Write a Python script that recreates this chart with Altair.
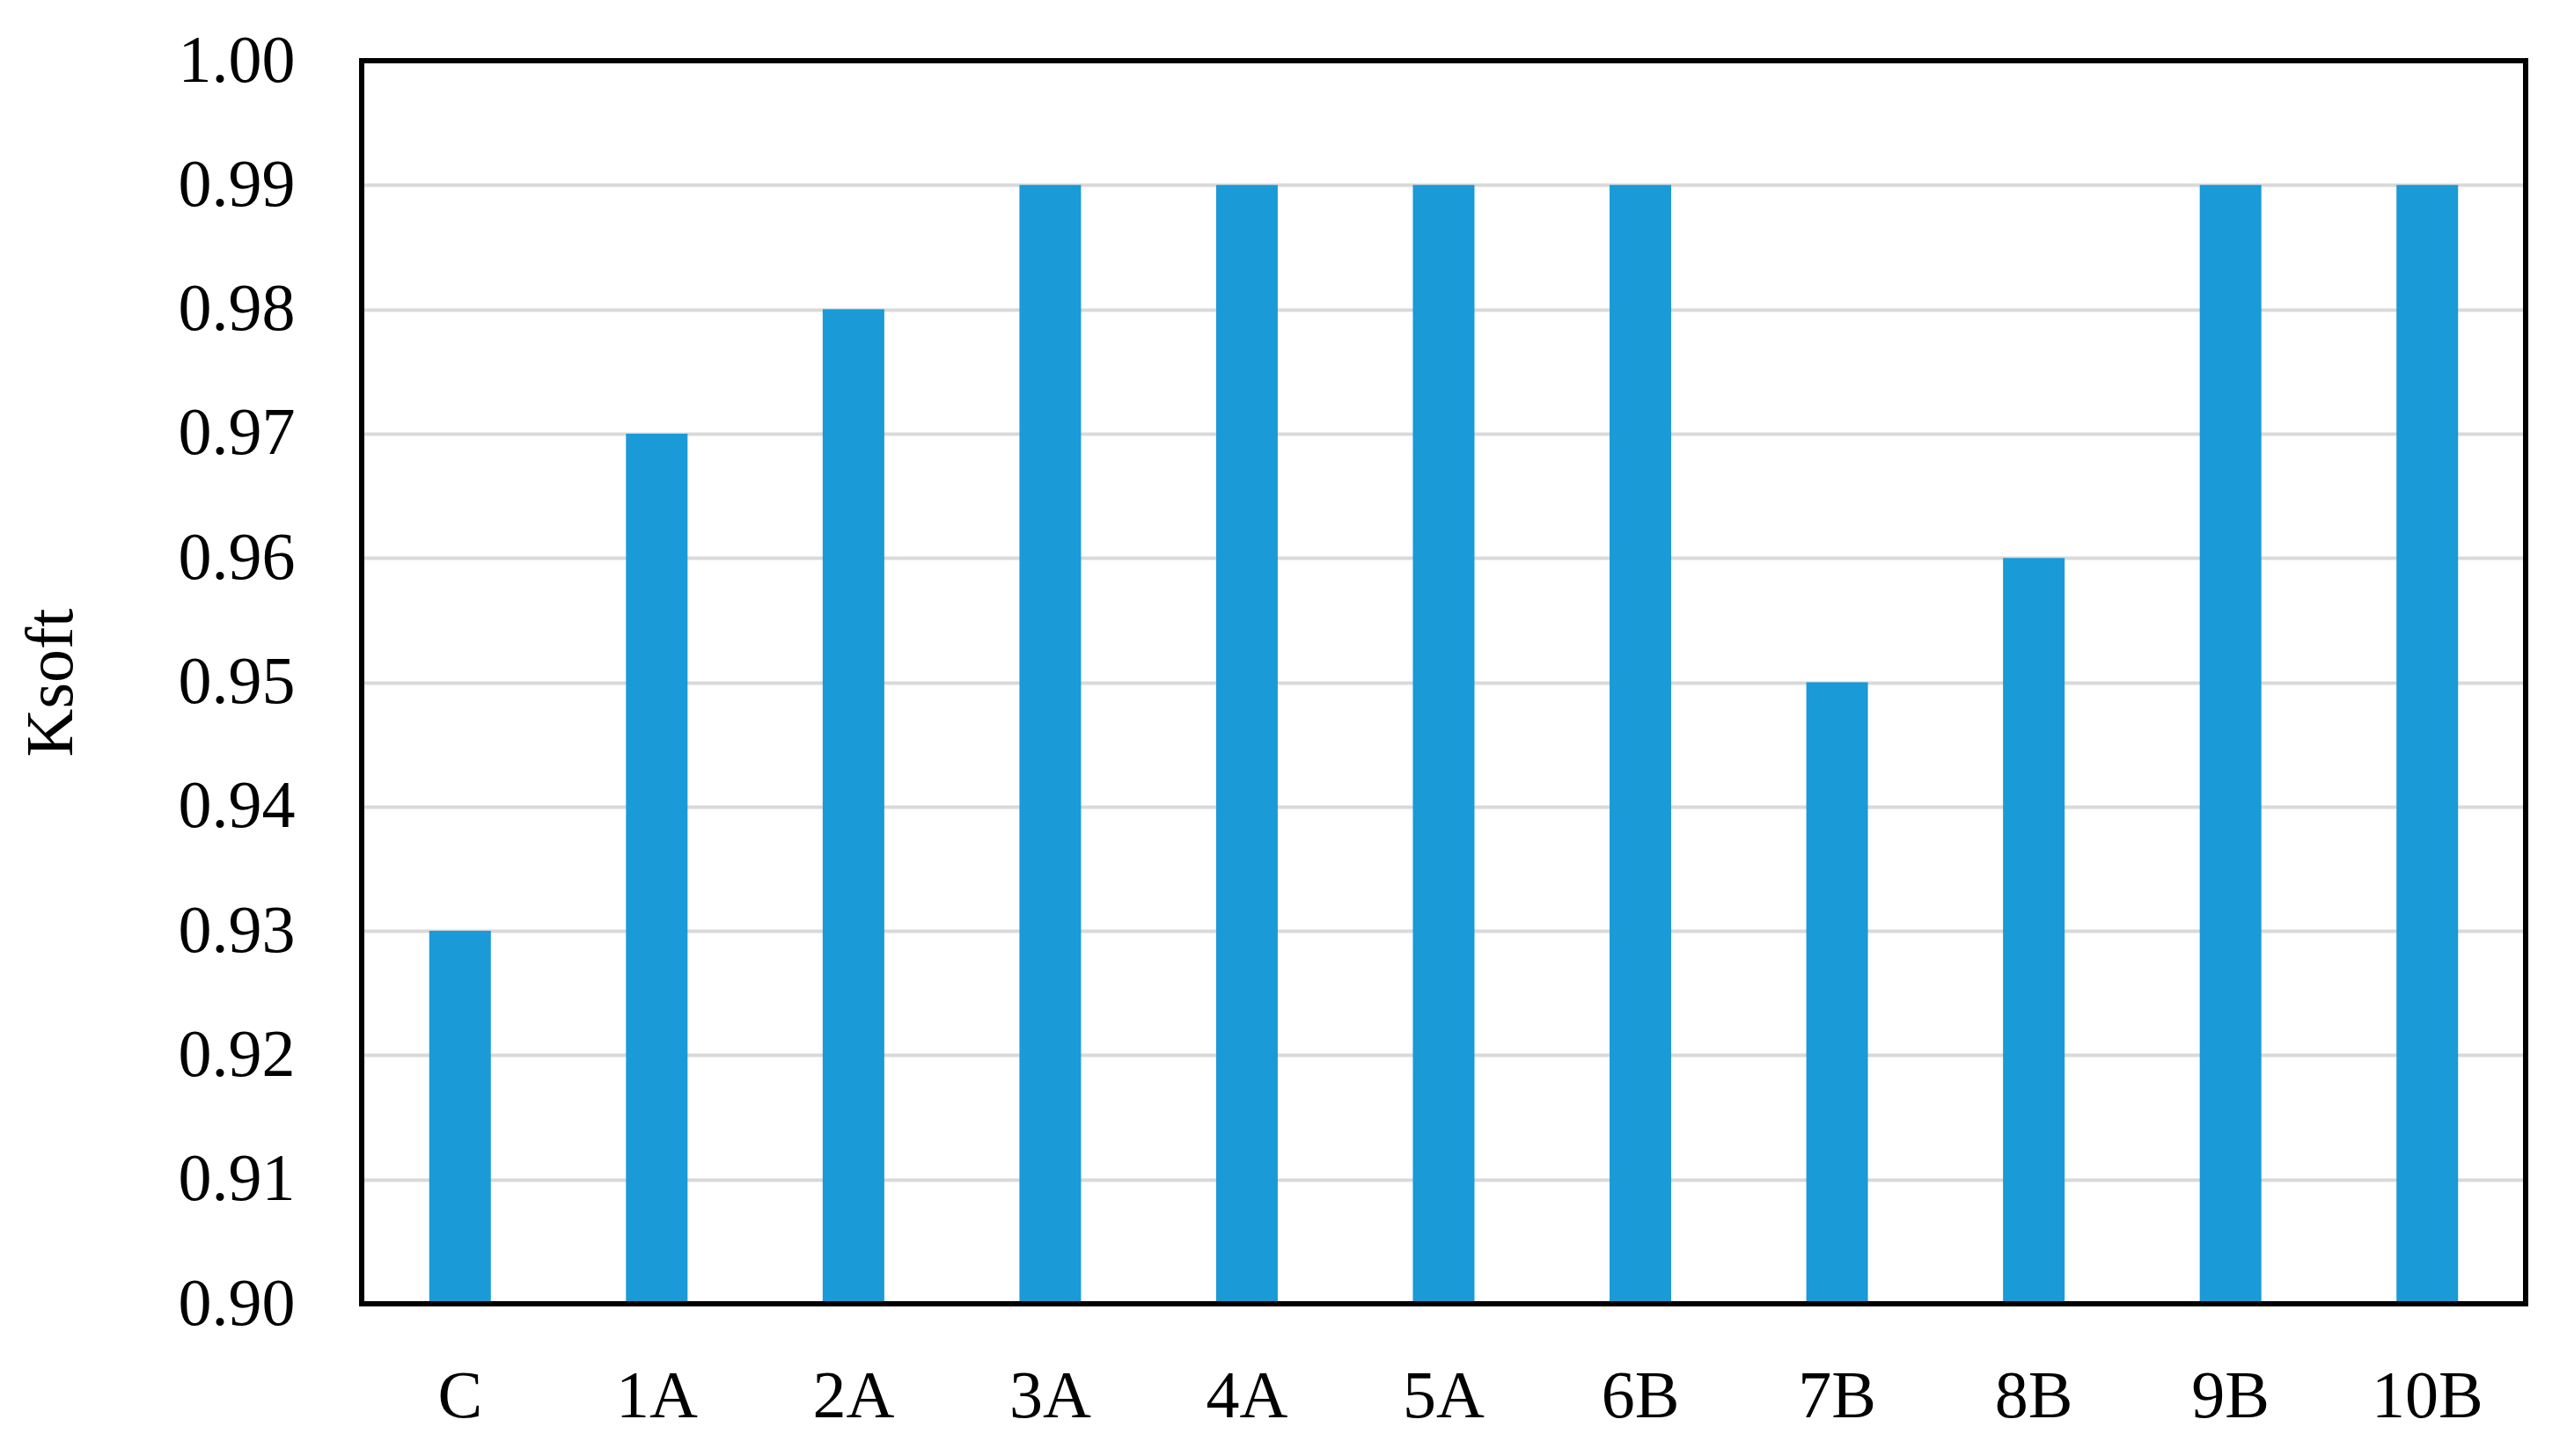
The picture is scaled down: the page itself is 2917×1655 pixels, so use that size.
import altair as alt
import pandas as pd

categories = ["C", "1A", "2A", "3A", "4A", "5A", "6B", "7B", "8B", "9B", "10B"]
ksoft = [0.93, 0.97, 0.98, 0.99, 0.99, 0.99, 0.99, 0.95, 0.96, 0.99, 0.99]
y_ticks = [0.90, 0.91, 0.92, 0.93, 0.94, 0.95, 0.96, 0.97, 0.98, 0.99, 1.00]

df = pd.DataFrame({"cat": categories, "Ksoft": ksoft})

FONT = "Liberation Serif"
W, H = 2459, 1413

bars = alt.Chart(df).mark_bar(size=70, color="#1a9ad6").encode(
    x=alt.X("cat:N", sort=categories, title=None,
            scale=alt.Scale(paddingInner=0, paddingOuter=0),
            axis=alt.Axis(labelAngle=0, domain=False, ticks=False, grid=False,
                          labelFont=FONT, labelFontSize=76, labelColor="black",
                          labelPadding=68)),
    y=alt.Y("Ksoft:Q", title="Ksoft",
            scale=alt.Scale(domain=[0.90, 1.00], zero=False, nice=False),
            axis=alt.Axis(values=y_ticks, format=".2f", domain=False, ticks=False,
                          grid=True, gridColor="#d9d9d9", gridWidth=4,
                          labelFont=FONT, labelFontSize=76, labelColor="black",
                          labelPadding=76, titleFont=FONT, titleFontSize=76,
                          titleFontWeight="normal", titleColor="black",
                          titlePadding=114)),
    y2=alt.datum(0.90),
)

frame = alt.Chart(df).mark_rect(fill=None, stroke="black", strokeWidth=5).encode(
    x=alt.value(0), x2=alt.value(W), y=alt.value(0), y2=alt.value(H)
)

chart = alt.layer(bars, frame).properties(
    width=W,
    height=H,
    autosize=alt.AutoSizeParams(type="none"),
    padding={"left": 403, "top": 61, "right": 39, "bottom": 165},
    background="white",
).configure_view(stroke=None)

chart.save("out.html", embed_options={"renderer": "svg", "actions": False})
